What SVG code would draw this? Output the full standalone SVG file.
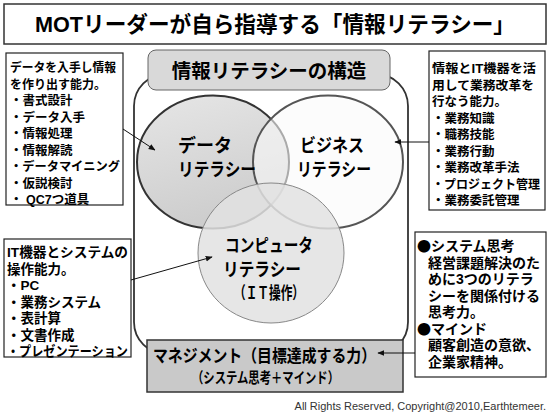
<svg xmlns="http://www.w3.org/2000/svg" width="550" height="414" viewBox="0 0 550 414">
<defs>
<style>
text{font-family:"Liberation Sans","Noto Sans CJK JP",sans-serif;fill:#000;font-weight:bold;}
.box{fill:#fff;stroke:#222;stroke-width:1.2;}
.t1{font-size:12.5px;}
.t2{font-size:13.5px;}
.t3{font-size:14px;}
.cl{font-size:18px;}
.dot{font-family:"Noto Sans CJK JP",sans-serif;}
.conn{stroke:#111;stroke-width:1;fill:none;}
</style>
<marker id="ah" viewBox="0 0 10 10" refX="9" refY="5" markerWidth="7" markerHeight="7" orient="auto" markerUnits="userSpaceOnUse">
<path d="M0,1 L10,5 L0,9 z" fill="#111"/>
</marker>
<linearGradient id="gData" x1="0" y1="0" x2="0.3" y2="1">
<stop offset="0" stop-color="#e6e6e6"/>
<stop offset="1" stop-color="#cdcdcd"/>
</linearGradient>
</defs>
<rect width="550" height="414" fill="#fff"/>

<g id="title">
<rect x="4" y="4" width="542" height="40" fill="#fff" stroke="#333" stroke-width="1.5"/>
<text x="35" y="32" font-size="22" textLength="480" lengthAdjust="spacingAndGlyphs">MOTリーダーが自ら指導する「情報リテラシー」</text>
</g>

<g id="outer">
<rect x="134" y="74" width="274" height="280" rx="32" ry="32" fill="#fff" stroke="#333" stroke-width="1.8"/>
</g>

<g id="header">
<rect x="148" y="50" width="242" height="40" rx="8" ry="8" fill="#d9d9d9" stroke="#666" stroke-width="1"/>
<text x="269" y="78" font-size="19.5" text-anchor="middle">情報リテラシーの構造</text>
</g>

<g id="data-literacy">
<ellipse cx="213" cy="162" rx="76" ry="66.5" fill="url(#gData)" stroke="#333" stroke-width="2"/>
</g>
<g id="business-literacy">
<ellipse cx="328" cy="162" rx="75" ry="66.5" fill="#fafafa" fill-opacity="0.6" stroke="#555" stroke-width="2"/>
</g>
<g id="computer-literacy">
<ellipse cx="271" cy="253" rx="73" ry="70" fill="#e2e2e2" fill-opacity="0.85" stroke="#888" stroke-width="1"/>
</g>
<g id="circle-labels">
<text class="cl" x="178" y="152">データ</text>
<text class="cl" x="178" y="176" textLength="78" lengthAdjust="spacingAndGlyphs">リテラシー</text>
<text class="cl" x="300" y="152" textLength="64" lengthAdjust="spacingAndGlyphs">ビジネス</text>
<text class="cl" x="297" y="176" textLength="74" lengthAdjust="spacingAndGlyphs">リテラシー</text>
<text class="cl" x="225" y="252" textLength="88" lengthAdjust="spacingAndGlyphs">コンピュータ</text>
<text class="cl" x="223" y="276" textLength="78" lengthAdjust="spacingAndGlyphs">リテラシー</text>
<text x="234" y="299" textLength="70" lengthAdjust="spacingAndGlyphs" style="font-size:17px">（ＩＴ操作）</text>
</g>

<g id="management">
<rect x="147" y="340" width="256" height="52" fill="#c9c9c9" stroke="#333" stroke-width="1.5"/>
<text x="153" y="362" font-size="17.5" textLength="223" lengthAdjust="spacingAndGlyphs">マネジメント（目標達成する力）</text>
<text x="192" y="383" font-size="15" textLength="147" lengthAdjust="spacingAndGlyphs">（システム思考＋マインド）</text>
</g>

<g id="box-data">
<rect class="box" x="6" y="53" width="117" height="152"/>
<text class="t1" x="10" y="72" textLength="106" lengthAdjust="spacingAndGlyphs">データを入手し情報</text>
<text class="t1" x="10" y="88.5" textLength="96" lengthAdjust="spacingAndGlyphs">を作り出す能力。</text>
<text class="t1" x="10" y="105">・書式設計</text>
<text class="t1" x="10" y="121.5">・データ入手</text>
<text class="t1" x="10" y="138">・情報処理</text>
<text class="t1" x="10" y="154.5">・情報解読</text>
<text class="t1" x="10" y="171" textLength="110" lengthAdjust="spacingAndGlyphs">・データマイニング</text>
<text class="t1" x="10" y="187.5">・仮説検討</text>
<text class="t1" x="10" y="204">・ QC7つ道具</text>
</g>

<g id="box-business">
<rect class="box" x="429" y="51" width="116" height="159"/>
<text class="t1" x="432" y="73" textLength="104" lengthAdjust="spacingAndGlyphs">情報とIT機器を活</text>
<text class="t1" x="432" y="89.5" textLength="102" lengthAdjust="spacingAndGlyphs">用して業務改革を</text>
<text class="t1" x="432" y="106">行なう能力。</text>
<text class="t1" x="432" y="122.5">・業務知識</text>
<text class="t1" x="432" y="139">・職務技能</text>
<text class="t1" x="432" y="155.5">・業務行動</text>
<text class="t1" x="432" y="172">・業務改革手法</text>
<text class="t1" x="432" y="188.5" textLength="108" lengthAdjust="spacingAndGlyphs">・プロジェクト管理</text>
<text class="t1" x="432" y="205">・業務委託管理</text>
</g>

<g id="box-computer">
<rect class="box" x="4" y="239" width="127" height="118"/>
<text class="t2" x="7" y="257" textLength="121" lengthAdjust="spacingAndGlyphs">IT機器とシステムの</text>
<text class="t2" x="7" y="273.5">操作能力。</text>
<text class="t2" x="7" y="290">・PC</text>
<text class="t2" x="7" y="306.5">・業務システム</text>
<text class="t2" x="7" y="323">・表計算</text>
<text class="t2" x="7" y="339.5">・文書作成</text>
<text class="t2" x="7" y="356" textLength="121" lengthAdjust="spacingAndGlyphs">・プレゼンテーション</text>
</g>

<g id="box-management">
<rect class="box" x="415" y="232" width="131" height="145"/>
<text class="t3" x="417" y="251"><tspan class="dot">●</tspan>システム思考</text>
<text class="t3" x="428" y="267.5">経営課題解決のた</text>
<text class="t3" x="428" y="284">めに3つのリテラ</text>
<text class="t3" x="428" y="300.5">シーを関係付ける</text>
<text class="t3" x="428" y="317">思考力。</text>
<text class="t3" x="417" y="333.5"><tspan class="dot">●</tspan>マインド</text>
<text class="t3" x="428" y="350">顧客創造の意欲、</text>
<text class="t3" x="428" y="366.5">企業家精神。</text>
</g>

<g id="connectors">
<line class="conn" x1="123" y1="129" x2="155" y2="150" marker-end="url(#ah)"/>
<line class="conn" x1="429" y1="142" x2="395" y2="142" marker-end="url(#ah)"/>
<line class="conn" x1="131" y1="280" x2="212" y2="257" marker-end="url(#ah)"/>
<line class="conn" x1="415" y1="353" x2="378" y2="353" marker-end="url(#ah)"/>
</g>

<text x="546" y="410" font-size="11" text-anchor="end" style="font-weight:normal;fill:#333">All Rights Reserved, Copyright@2010,Earthtemeer.</text>
</svg>
